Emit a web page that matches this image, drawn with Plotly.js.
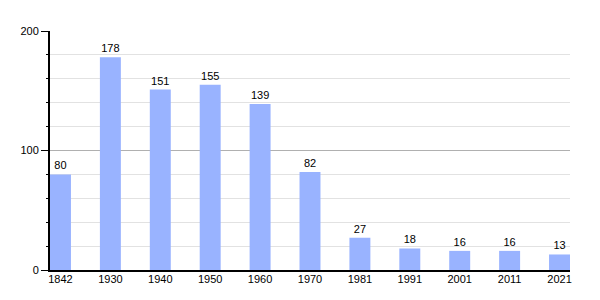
<!DOCTYPE html>
<html><head><meta charset="utf-8">
<script src="https://cdn.plot.ly/plotly-3.0.1.min.js"></script>
<style>html,body{margin:0;padding:0;background:#fff}</style>
</head><body>
<div id="chart" style="width:600px;height:300px"></div>
<script>
const years = ["1842","1930","1940","1950","1960","1970","1981","1991","2001","2011","2021"];
const population = [80,178,151,155,139,82,27,18,16,16,13];

Plotly.newPlot('chart', [{
  type: 'bar',
  x: years,
  y: population,
  width: 0.42,
  marker: {color: '#99b3ff', line: {width: 0}},
  text: population.map(String),
  textposition: 'outside',
  cliponaxis: false,
  textfont: {family: 'Liberation Sans, Arial, sans-serif', size: 11, color: '#000'},
  hoverinfo: 'none'
}], {
  width: 600, height: 300,
  margin: {l: 50, r: 30, t: 31, b: 30},
  paper_bgcolor: '#fff', plot_bgcolor: '#fff',
  font: {family: 'Liberation Sans, Arial, sans-serif', size: 11, color: '#000'},
  showlegend: false,
  bargap: 0.58,
  xaxis: {
    type: 'category',
    range: [-0.21, 10.21],
    showline: true, linecolor: '#000', linewidth: 2,
    ticks: '', showgrid: false,
    tickfont: {size: 11},
    ticklabelstandoff: -2,
    fixedrange: true
  },
  yaxis: {
    range: [0, 200],
    dtick: 100, tick0: 0,
    showline: true, linecolor: '#000', linewidth: 2,
    ticks: 'outside', ticklen: 7, tickcolor: '#000', tickwidth: 1,
    gridcolor: '#b0b0b0', gridwidth: 1,
    zeroline: false,
    tickfont: {size: 11},
    minor: {dtick: 20, ticks: 'outside', ticklen: 2, tickcolor: '#000', showgrid: true, gridcolor: '#e2e2e2', gridwidth: 1},
    fixedrange: true
  }
}, {displayModeBar: false, staticPlot: true});
</script>
</body></html>
